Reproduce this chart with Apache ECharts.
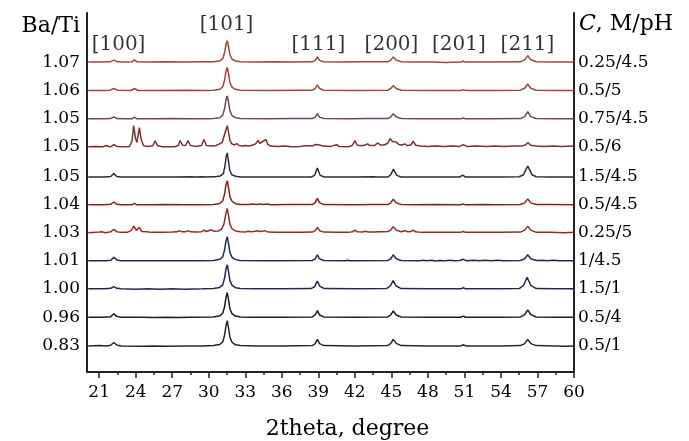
<!DOCTYPE html>
<html><head><meta charset="utf-8">
<script src="https://cdn.jsdelivr.net/npm/echarts@6/dist/echarts.min.js"></script>
<style>html,body{margin:0;padding:0;background:#fff}#c{width:689px;height:441px}</style>
</head><body><div id="c"></div>
<script>
// Ba/Ti ratio labels (left) and C, M/pH labels (right), bottom trace first
const baTiLabels = ['0.83','0.96','1.00','1.01','1.03','1.04','1.05','1.05','1.05','1.06','1.07'];
const cphLabels  = ['0.5/1','0.5/4','1.5/1','1/4.5','0.25/5','0.5/4.5','1.5/4.5','0.5/6','0.75/4.5','0.5/5','0.25/4.5'];
// vertical offsets of each pattern (counts)
const offsets = [0,101,201,300,399,497,595,702,800,900,1000];
const traceColors = ['#262633','#1e1e1e','#23294f','#1d2a5e','#9a2a2a','#8e1f1f','#2b2d3d','#7d3030','#6b4a4a','#a8403f','#a8403f'];

// x tick labels
const xTickLabels = [21,24,27,30,33,36,39,42,45,48,51,54,57,60];
const xMinorTicks = [22.5,25.5,28.5,31.5,34.5,37.5,40.5,43.5,46.5,49.5,52.5,55.5,58.5];

// peak (hkl) labels
const peakNames = ['[100]','[101]','[111]','[200]','[201]','[211]'];
const peakX = [22.59,31.46,39.01,45.01,50.55,56.18];
const peakY = [1060,1130,1060,1060,1060,1060];

// patterns: [2theta, intensity]
const p_05_1 = [[20.1,0],[21.0,1],[21.6,0],[21.95,2],[22.2,12],[22.45,3],[22.8,0],[24.5,-1],[25.5,0],[26.5,-1],[28.0,0],[29.5,0],[30.4,1],[30.9,5],[31.15,14],[31.3,38],[31.42,72],[31.52,89],[31.62,64],[31.74,30],[31.92,12],[32.2,4],[32.6,1],[34,0],[36,0],[38.5,1],[38.75,8],[38.92,23],[39.1,8],[39.45,1],[42,0],[44.7,1],[44.95,9],[45.15,23],[45.4,9],[45.8,1],[48,0],[50.7,0],[50.9,4],[51.1,0],[54,0],[55.6,1],[55.95,8],[56.2,23],[56.45,8],[56.9,1],[58.5,0],[59.3,-1],[60,0]];
const p_05_4 = [[20.1,0],[21.2,0],[21.95,2],[22.2,12],[22.45,3],[22.8,0],[24.5,0],[25.5,-1],[26.5,0],[27.5,-1],[28.5,0],[30.4,1],[30.9,5],[31.15,14],[31.3,37],[31.42,71],[31.52,87],[31.62,63],[31.74,29],[31.92,12],[32.2,4],[32.6,1],[33.5,0],[36,0],[38.5,1],[38.75,8],[38.92,23],[39.1,8],[39.45,1],[42,0],[44.7,1],[44.95,8],[45.15,22],[45.4,8],[45.8,1],[48,0],[50.7,0],[50.9,4],[51.1,0],[54,0],[55.6,1],[55.95,9],[56.2,26],[56.45,9],[56.9,1],[58.5,0],[60,0]];
const p_15_1 = [[20.1,0],[21.5,0],[21.95,2],[22.2,8],[22.45,2],[22.8,0],[24,-1],[25,0],[26,-1],[27,0],[28,-1],[29.5,0],[30.4,1],[30.9,5],[31.15,14],[31.3,38],[31.42,71],[31.52,85],[31.62,62],[31.74,29],[31.92,12],[32.2,4],[32.6,1],[34,0],[36,0],[38.4,1],[38.7,8],[38.92,27],[39.12,9],[39.5,1],[42,0],[44.6,1],[44.9,10],[45.15,29],[45.4,10],[45.8,1],[48,0],[50.7,0],[50.9,4],[51.1,0],[53.5,0],[55.5,1],[55.85,12],[56.15,41],[56.45,12],[56.9,1],[58.5,0],[60,0]];
const p_1_45 = [[20.1,0],[21.5,0],[21.95,2],[22.2,12],[22.45,3],[22.8,0],[25,0],[27,0],[29,0],[30.4,1],[30.9,5],[31.15,14],[31.3,38],[31.42,71],[31.52,85],[31.62,62],[31.74,29],[31.92,12],[32.2,4],[32.6,1],[35,0],[38.5,1],[38.75,7],[38.92,21],[39.1,7],[39.45,1],[41.2,0],[41.4,2],[41.6,0],[44.7,1],[44.95,7],[45.15,21],[45.4,7],[45.8,1],[47.3,0],[47.6,2],[47.9,0],[48.3,2],[48.6,-1],[49.0,1],[49.4,0],[49.8,2],[50.2,0],[50.6,1],[50.9,5],[51.2,0],[51.8,2],[52.2,0],[52.7,2],[53.2,0],[53.7,2],[54.2,0],[55.6,1],[55.95,7],[56.2,21],[56.45,7],[56.9,1],[57.4,2],[57.8,0],[58.3,2],[58.8,0],[60,0]];
const p_025_5 = [[20.1,0],[20.8,1],[21.2,3],[21.5,0],[21.95,3],[22.2,12],[22.45,3],[22.8,1],[23.3,1],[23.65,8],[23.85,23],[24.05,8],[24.15,10],[24.3,19],[24.5,4],[24.9,3],[25.3,1],[26.2,1],[27.0,2],[27.4,3],[27.6,7],[27.8,3],[28.1,3],[28.3,7],[28.5,3],[29.0,2],[29.4,3],[29.6,9],[29.8,4],[30.2,10],[30.45,5],[30.8,6],[31.05,12],[31.25,30],[31.4,66],[31.52,85],[31.62,62],[31.74,30],[31.92,13],[32.2,6],[32.6,3],[33.0,2],[33.2,5],[33.5,3],[33.8,5],[34.0,7],[34.3,4],[34.6,7],[34.9,2],[35.5,1],[36.5,1],[37.5,1],[38.5,2],[38.75,7],[38.92,19],[39.1,7],[39.45,2],[40.5,1],[41.5,1],[41.8,3],[42.0,9],[42.2,3],[42.6,2],[42.9,5],[43.1,2],[43.6,2],[44.0,3],[44.4,3],[44.7,4],[44.95,9],[45.15,21],[45.4,9],[45.8,3],[46.1,7],[46.35,3],[46.6,4],[46.8,9],[47.0,3],[47.5,1],[48.5,1],[49.5,1],[50.7,1],[50.9,4],[51.1,1],[52.5,1],[54,1],[55.6,2],[55.95,9],[56.2,23],[56.45,9],[56.9,1],[58,1],[59.2,0],[60,1]];
const p_05_45 = [[20.1,0],[21.3,0],[21.95,2],[22.2,10],[22.45,2],[22.8,0],[23.7,0],[23.9,5],[24.1,0],[25,0],[26.5,1],[28,0],[29.5,0],[30.4,1],[30.9,5],[31.15,14],[31.3,38],[31.42,71],[31.52,85],[31.62,62],[31.74,29],[31.92,12],[32.2,4],[32.6,1],[33.3,1],[33.6,3],[33.9,1],[34.2,3],[34.5,1],[34.8,3],[35.1,0],[36.5,1],[38.5,1],[38.75,8],[38.92,23],[39.1,8],[39.45,1],[42,0],[43.5,1],[44.7,1],[44.95,7],[45.15,20],[45.4,7],[45.8,1],[47,0],[48.5,1],[50.7,0],[50.9,3],[51.1,0],[52.5,1],[53.5,0],[55.6,1],[55.95,7],[56.2,21],[56.45,7],[56.9,1],[58,1],[60,0]];
const p_15_45 = [[20.1,0],[21.5,0],[21.95,2],[22.2,12],[22.45,2],[22.8,0],[25,0],[27,0],[28.6,1],[28.8,0],[29.5,1],[29.8,0],[30.2,1],[30.5,1],[30.95,4],[31.2,12],[31.33,38],[31.44,74],[31.52,85],[31.61,60],[31.72,24],[31.9,8],[32.2,3],[32.6,0],[35,0],[38.4,0],[38.7,6],[38.82,20],[38.92,32],[39.02,20],[39.15,6],[39.5,0],[42,0],[43.5,1],[43.8,0],[44.7,0],[44.95,8],[45.08,20],[45.17,28],[45.28,18],[45.45,6],[45.8,0],[48,0],[50.6,0],[50.85,7],[51.1,0],[54,0],[55.5,1],[55.85,8],[56.05,26],[56.2,39],[56.35,26],[56.55,8],[56.9,1],[58,0],[60,0]];
const p_05_6 = [[20.1,0],[20.8,1],[21.3,0],[21.6,4],[21.8,0],[22.0,1],[22.2,7],[22.45,1],[23.0,0],[23.5,1],[23.7,20],[23.83,74],[23.98,30],[24.1,15],[24.3,67],[24.45,25],[24.65,3],[25.0,1],[25.4,3],[25.6,21],[25.8,3],[26.2,0],[27.2,0],[27.5,4],[27.65,21],[27.85,5],[28.1,4],[28.3,21],[28.5,4],[28.9,1],[29.4,4],[29.6,25],[29.8,4],[30.3,2],[30.6,4],[30.8,8],[30.95,5],[31.1,14],[31.25,20],[31.38,55],[31.52,74],[31.62,50],[31.74,22],[31.9,10],[32.1,6],[32.3,11],[32.5,4],[32.8,2],[33.0,4],[33.3,2],[33.6,6],[33.85,10],[34.05,22],[34.2,12],[34.35,13],[34.45,19],[34.55,14],[34.7,25],[34.85,8],[35.1,2],[35.6,1],[36.2,2],[36.8,0],[37.5,1],[37.9,3],[38.05,10],[38.2,3],[38.5,2],[38.75,8],[38.9,14],[39.1,6],[39.4,2],[40.0,1],[40.5,7],[40.7,1],[41.5,0],[41.8,5],[42.0,21],[42.2,5],[42.6,3],[42.85,6],[43.05,10],[43.25,4],[43.6,4],[43.9,13],[44.1,6],[44.4,6],[44.7,12],[44.9,28],[45.1,18],[45.25,12],[45.4,16],[45.6,8],[45.9,6],[46.1,10],[46.3,4],[46.6,6],[46.8,19],[47.0,5],[47.4,2],[48,1],[48.6,2],[49.3,1],[50,2],[50.6,1],[50.9,7],[51.2,1],[52,2],[52.8,1],[53.5,2],[54.3,1],[55,2],[55.7,2],[56.0,6],[56.2,14],[56.45,5],[56.9,2],[57.5,1],[58.3,2],[59,1],[60,2]];
const p_075_45 = [[20.1,0],[21.4,0],[21.95,1],[22.2,7],[22.45,1],[23.0,0],[23.7,0],[23.9,6],[24.1,0],[25.5,0],[27,1],[28.5,0],[30,0],[30.4,1],[30.9,4],[31.15,13],[31.3,36],[31.42,68],[31.52,81],[31.62,60],[31.74,28],[31.92,11],[32.2,4],[32.6,1],[35,0],[37,1],[38.5,1],[38.75,6],[38.92,18],[39.1,6],[39.45,1],[41.5,0],[43,1],[44.7,1],[44.95,7],[45.15,18],[45.4,7],[45.8,1],[47.5,0],[49,0],[50.7,0],[50.9,3],[51.1,0],[53,0],[55.6,1],[55.95,8],[56.2,25],[56.45,8],[56.9,1],[58.5,0],[60,0]];
const p_05_5 = [[20.1,0],[21.5,0],[21.9,1],[22.2,7],[22.5,1],[23.6,0],[23.9,7],[24.2,0],[26,0],[28,1],[29.8,0],[30.4,1],[30.9,4],[31.15,13],[31.3,36],[31.42,68],[31.52,81],[31.62,60],[31.74,28],[31.92,11],[32.2,4],[32.6,1],[35,0],[37.5,1],[38.5,1],[38.75,7],[38.92,20],[39.1,7],[39.45,1],[42,0],[44.7,1],[44.95,7],[45.15,17],[45.4,7],[45.8,1],[48,0],[50.7,0],[50.9,3],[51.1,0],[53.5,0],[55.6,1],[55.95,8],[56.2,23],[56.45,8],[56.9,1],[58.5,0],[60,0]];
const p_025_45 = [[20.1,0],[21.2,0],[21.9,1],[22.2,7],[22.5,1],[23.0,0],[23.7,1],[23.9,8],[24.1,1],[25,0],[26.5,1],[28,0],[29.5,1],[30.4,1],[30.9,4],[31.15,12],[31.3,33],[31.42,62],[31.52,75],[31.62,55],[31.74,26],[31.92,10],[32.2,4],[32.6,1],[34,0],[35.5,1],[37,0],[38.5,1],[38.75,6],[38.92,18],[39.1,6],[39.45,1],[41,0],[42.5,1],[44.7,1],[44.95,7],[45.15,18],[45.4,7],[45.8,1],[47,0],[48.5,0],[49.5,-1],[50.7,0],[50.9,3],[51.1,0],[53,0],[55.6,1],[55.95,8],[56.2,23],[56.45,8],[56.9,1],[58,0],[60,0]];

const patterns = [p_05_1,p_05_4,p_15_1,p_1_45,p_025_5,p_05_45,p_15_45,p_05_6,p_075_45,p_05_5,p_025_45];

const FONT = 'DejaVu Serif';
const TXT = '#000';
const chart = echarts.init(document.getElementById('c'), null, {renderer:'canvas'});

function labelFor(list){
  return function(v){
    let best = 0, bd = 1e9;
    offsets.forEach((o,i)=>{ const d=Math.abs(o-v); if(d<bd){bd=d;best=i;} });
    return list[best];
  };
}

const series = patterns.map((p,i)=>({
  type:'line', xAxisIndex:0, yAxisIndex:0,
  data: p.map(q=>[q[0], q[1]+offsets[i]]),
  showSymbol:false, symbol:'none', smooth:false,
  lineStyle:{width:1.5, color:traceColors[i]},
  z:2, silent:true
}));
series.push({
  type:'scatter', xAxisIndex:0, yAxisIndex:0, symbolSize:0,
  data: peakNames.map((n,i)=>[peakX[i], peakY[i], n]),
  label:{show:true, position:'inside', formatter:(d)=>d.data[2], fontFamily:FONT, fontSize:20, color:TXT},
  silent:true, z:5
});

chart.setOption({
  animation:false,
  backgroundColor:'#fff',
  grid:{left:87, right:115, top:13, bottom:69, containLabel:false, outerBoundsMode:'none'},
  xAxis:[{
    type:'value', min:20, max:60, position:'bottom',
    name:'2theta, degree', nameLocation:'middle', nameGap:46,
    nameTextStyle:{fontFamily:FONT, fontSize:22, color:TXT, padding:[0,0,0,34]},
    axisLine:{show:true, onZero:false, lineStyle:{color:'#222', width:2}},
    axisTick:{show:true, customValues:xTickLabels, length:6, lineStyle:{color:'#222', width:1.5}},
    axisLabel:{show:true, customValues:xTickLabels, fontFamily:FONT, fontSize:17, color:TXT, margin:12},
    splitLine:{show:false}
  },{
    type:'value', min:20, max:60, position:'bottom',
    axisLine:{show:false, onZero:false},
    axisTick:{show:true, customValues:xMinorTicks, length:3, lineStyle:{color:'#222', width:1.5}},
    axisLabel:{show:false},
    splitLine:{show:false}
  }],
  yAxis:[{
    type:'value', min:-92, max:1173, position:'left',
    name:'Ba/Ti', nameLocation:'end', nameGap:-13,
    nameTextStyle:{fontFamily:FONT, fontSize:22, color:TXT, align:'right', verticalAlign:'middle', padding:[0,7,0,0]},
    axisLine:{show:true, onZero:false, lineStyle:{color:'#222', width:2}},
    axisTick:{show:false},
    axisLabel:{show:true, customValues:offsets, formatter:labelFor(baTiLabels), fontFamily:FONT, fontSize:17, color:TXT, margin:7},
    splitLine:{show:false}
  },{
    type:'value', min:-92, max:1173, position:'right',
    name:'{i|C}, M/pH', nameLocation:'end', nameGap:-11,
    nameTextStyle:{fontFamily:FONT, fontSize:22, color:TXT, align:'left', verticalAlign:'middle', padding:[0,0,0,5],
      rich:{i:{fontFamily:FONT, fontSize:22, fontStyle:'italic', color:TXT}}},
    axisLine:{show:true, onZero:false, lineStyle:{color:'#222', width:2}},
    axisTick:{show:false},
    axisLabel:{show:true, customValues:offsets, formatter:labelFor(cphLabels), fontFamily:FONT, fontSize:17, color:TXT, margin:4},
    splitLine:{show:false}
  }],
  series:series
});
</script></body></html>
